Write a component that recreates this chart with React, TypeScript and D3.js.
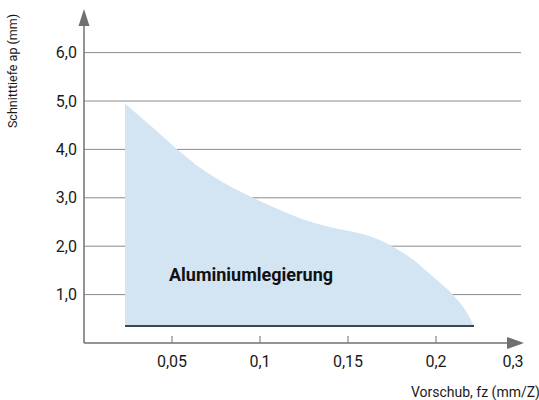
import React from "react";
import * as d3 from "d3";

const feedValues = [0.0233, 0.039, 0.053, 0.0676, 0.083, 0.096, 0.11, 0.1227, 0.1415, 0.157, 0.168, 0.1756, 0.187, 0.198, 0.21, 0.2176, 0.2216];
const depthUpper = [4.95, 4.45, 4.0, 3.58, 3.24, 3.0, 2.77, 2.58, 2.38, 2.26, 2.13, 1.99, 1.72, 1.38, 0.98, 0.62, 0.35];
const depthLower = 0.35;
const yTicks = [1, 2, 3, 4, 5, 6];
const yTickLabels = ["1,0", "2,0", "3,0", "4,0", "5,0", "6,0"];
const xTicks = [0.05, 0.1, 0.15, 0.2];
const xTickLabels = ["0,05", "0,1", "0,15", "0,2"];
const xEndLabel = "0,3";
const areaLabel = "Aluminiumlegierung";
const yTitle = "Schnitttiefe ap (mm)";
const xTitle = "Vorschub, fz (mm/Z)";

export default function App() {
  const W = 539, H = 400;
  const x = d3.scaleLinear().domain([0, 0.25]).range([84, 524]);
  const y = d3.scaleLinear().domain([0, 6]).range([343, 52.6]);
  const pts = feedValues.map((f, i) => ({ f, d: depthUpper[i] }));
  const area = d3
    .area<{ f: number; d: number }>()
    .x((p) => x(p.f))
    .y0(y(depthLower))
    .y1((p) => y(p.d))
    .curve(d3.curveMonotoneX);
  const font = "Roboto, 'Liberation Sans', Arial, sans-serif";
  const axisCol = "#707070";
  const x0 = feedValues[0];
  const x1 = feedValues[feedValues.length - 1];
  return (
    <svg width={W} height={H} style={{ position: "absolute", left: 0, top: 0 }} fontFamily={font}>
      <rect width={W} height={H} fill="#fff" />
      {yTicks.map((t) => (
        <line key={t} x1={x(0)} x2={521} y1={y(t)} y2={y(t)} stroke="#8a8a8a" strokeWidth={1} />
      ))}
      <path d={area(pts) || ""} fill="#d3e4f3" />
      <line x1={x(x0)} x2={x(x1)} y1={y(depthLower)} y2={y(depthLower)} stroke="#3b4652" strokeWidth={2} />
      <line x1={x(0)} x2={x(0)} y1={24} y2={y(0)} stroke={axisCol} strokeWidth={1.5} />
      <path d={`M${x(0)},9 L${x(0) - 5.5},26 L${x(0) + 5.5},26 Z`} fill={axisCol} />
      <line x1={x(0)} x2={509} y1={y(0)} y2={y(0)} stroke={axisCol} strokeWidth={1.5} />
      <path d={`M524,${y(0)} L507,${y(0) - 6} L507,${y(0) + 6} Z`} fill={axisCol} />
      {xTicks.map((t) => (
        <line key={t} x1={x(t)} x2={x(t)} y1={y(0) - 7} y2={y(0)} stroke={axisCol} strokeWidth={1} />
      ))}
      {yTicks.map((t, i) => (
        <text key={t} x={77} y={y(t)} dy="0.35em" textAnchor="end" fontSize={16} fill="#1a1a1a">
          {yTickLabels[i]}
        </text>
      ))}
      {xTicks.map((t, i) => (
        <text key={t} x={x(t)} y={361} dy="0.35em" textAnchor="middle" fontSize={16} fill="#1a1a1a">
          {xTickLabels[i]}
        </text>
      ))}
      <text x={513} y={361} dy="0.35em" textAnchor="middle" fontSize={16} fill="#1a1a1a">
        {xEndLabel}
      </text>
      <text x={251} y={275} dy="0.35em" textAnchor="middle" fontSize={18} fontWeight="bold" fill="#111">
        {areaLabel}
      </text>
      <text transform="translate(13,71) rotate(-90)" textAnchor="middle" dy="0.35em" fontSize={12.5} fill="#1a1a1a">
        {yTitle}
      </text>
      <text x={540} y={392} dy="0.35em" textAnchor="end" fontSize={14} fill="#1a1a1a">
        {xTitle}
      </text>
    </svg>
  );
}
